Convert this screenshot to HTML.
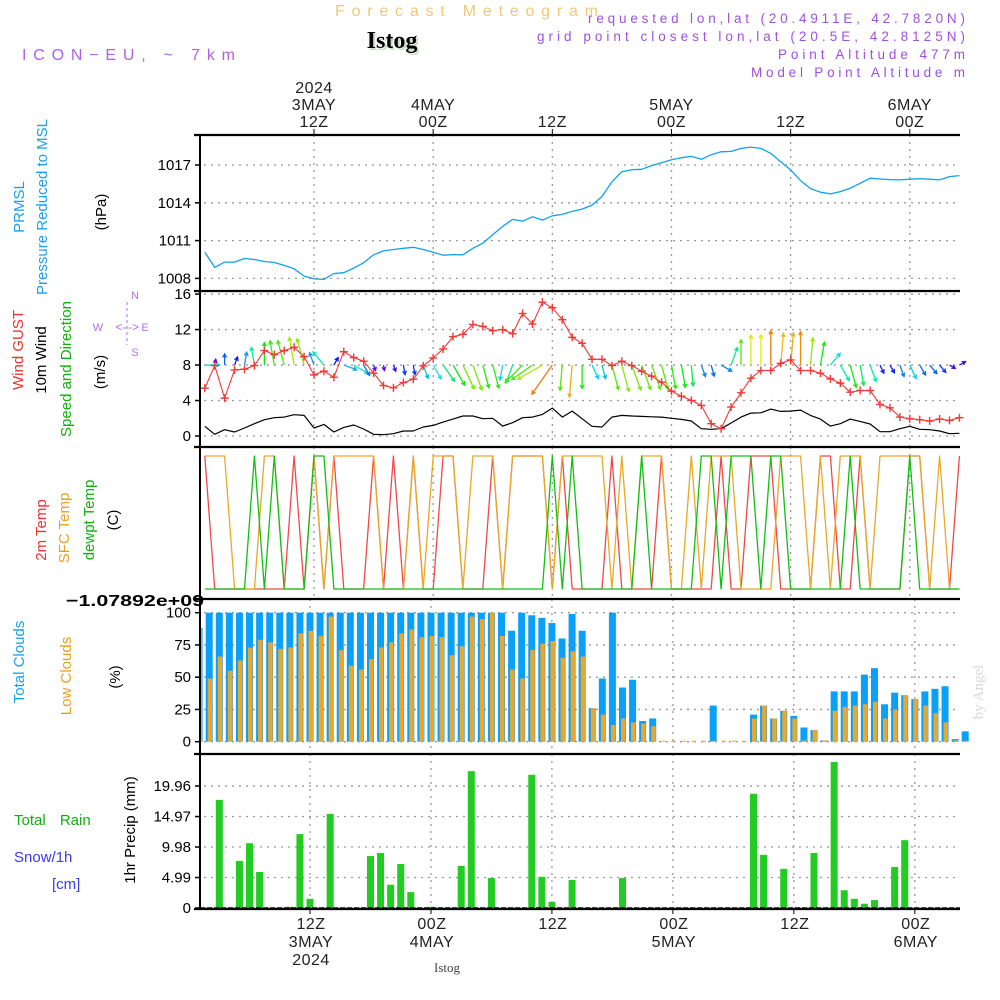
<!DOCTYPE html>
<html><head><meta charset="utf-8"><style>
html,body{margin:0;padding:0;background:#fff;}
svg{display:block;font-family:"Liberation Sans",sans-serif;}
</style></head><body>
<svg id="chart" width="1000" height="1000" viewBox="0 0 1000 1000" xmlns="http://www.w3.org/2000/svg">
<g>
<text x="335" y="16" font-size="16" fill="#f0c878" textLength="263" lengthAdjust="spacing">Forecast Meteogram</text>
<text x="394" y="50" text-anchor="middle" font-size="24" font-weight="bold" font-family="Liberation Serif,serif" fill="#c8dcc8">Istog</text>
<text x="392" y="48" text-anchor="middle" font-size="24" font-weight="bold" font-family="Liberation Serif,serif" fill="#000">Istog</text>
<text x="22" y="60" font-size="16" fill="#b060e8" textLength="213" lengthAdjust="spacing">ICON−EU, ~ 7km</text>
<text x="588" y="23" font-size="13.5" fill="#a050e0" textLength="377" lengthAdjust="spacing">requested lon,lat (20.4911E, 42.7820N)</text>
<text x="537" y="41" font-size="13.5" fill="#a050e0" textLength="428" lengthAdjust="spacing">grid point closest lon,lat (20.5E, 42.8125N)</text>
<text x="778" y="59" font-size="13.5" fill="#a050e0" textLength="187" lengthAdjust="spacing">Point Altitude 477m</text>
<text x="751" y="77" font-size="13.5" fill="#a050e0" textLength="214" lengthAdjust="spacing">Model Point Altitude m</text>
</g>
<g font-size="15">
<text transform="translate(24,207) rotate(-90)" text-anchor="middle" fill="#1aa0ee">PRMSL</text>
<text transform="translate(47,207) rotate(-90)" text-anchor="middle" fill="#1aa0ee">Pressure Reduced to MSL</text>
<text transform="translate(106,212) rotate(-90)" text-anchor="middle" fill="#000">(hPa)</text>
<text transform="translate(23,350) rotate(-90)" text-anchor="middle" fill="#f03030">Wind GUST</text>
<text transform="translate(46,360) rotate(-90)" text-anchor="middle" fill="#000">10m Wind</text>
<text transform="translate(71,369) rotate(-90)" text-anchor="middle" fill="#10b010">Speed and Direction</text>
<text transform="translate(105,372) rotate(-90)" text-anchor="middle" fill="#000">(m/s)</text>
<g fill="#b070e8" font-size="11">
<text x="135" y="299" text-anchor="middle">N</text><text x="135" y="356" text-anchor="middle">S</text>
<text x="98" y="331" text-anchor="middle">W</text><text x="145" y="331" text-anchor="middle">E</text>
<text x="121" y="331" text-anchor="middle" font-size="12">&lt;-</text><text x="149" y="331" text-anchor="middle" font-size="12"></text>
<text x="128" y="331" text-anchor="start" font-size="12">-&gt;</text>
<line x1="127" y1="302" x2="127" y2="345" stroke="#b070e8" stroke-dasharray="3,3"/>
</g>
<text transform="translate(46,530) rotate(-90)" text-anchor="middle" fill="#f03030">2m Temp</text>
<text transform="translate(69,528) rotate(-90)" text-anchor="middle" fill="#e8a020">SFC Temp</text>
<text transform="translate(94,520) rotate(-90)" text-anchor="middle" fill="#10b010">dewpt Temp</text>
<text transform="translate(118,520) rotate(-90)" text-anchor="middle" fill="#000">(C)</text>
<text transform="translate(24,662) rotate(-90)" text-anchor="middle" fill="#1aa0ee">Total Clouds</text>
<text transform="translate(71,676) rotate(-90)" text-anchor="middle" fill="#e8a020">Low Clouds</text>
<text transform="translate(120,677) rotate(-90)" text-anchor="middle" fill="#000">(%)</text>
<text transform="translate(135,830) rotate(-90)" text-anchor="middle" fill="#000">1hr Precip (mm)</text>
<text x="14" y="825" fill="#10b010" word-spacing="10">Total  Rain</text>
<text x="14" y="862" fill="#3a3aee">Snow/1h</text>
<text x="52" y="889" fill="#3a3aee">[cm]</text>
<text x="66" y="606" font-weight="bold" font-size="16" fill="#000" textLength="138" lengthAdjust="spacingAndGlyphs">−1.07892e+09</text>
<text transform="translate(983,692) rotate(-90)" text-anchor="middle" font-family="Liberation Serif,serif" font-size="15" fill="#d8d8d8">by Angel</text>
<text x="447" y="972" text-anchor="middle" font-family="Liberation Serif,serif" font-size="13" fill="#444">Istog</text>
</g>
<g id="grid"></g><g id="marks"></g><g id="axes"></g>
</svg>
<script>
const hours=[];for(let i=1;i<=77;i++)hours.push(i);
const pressure=[1010.08,1008.87,1009.29,1009.29,1009.58,1009.50,1009.34,1009.26,1009.03,1008.76,1008.18,1007.97,1007.92,1008.39,1008.45,1008.82,1009.24,1009.87,1010.18,1010.29,1010.39,1010.47,1010.29,1010.08,1009.84,1009.89,1009.87,1010.39,1010.79,1011.47,1012.13,1012.68,1012.55,1012.89,1012.63,1012.97,1013.08,1013.32,1013.50,1013.82,1014.50,1015.66,1016.47,1016.63,1016.66,1016.95,1017.18,1017.42,1017.58,1017.68,1017.45,1017.82,1018.05,1018.08,1018.32,1018.42,1018.32,1017.92,1017.26,1016.61,1015.76,1015.13,1014.84,1014.71,1014.89,1015.16,1015.55,1015.95,1015.89,1015.84,1015.82,1015.87,1015.92,1015.87,1015.82,1016.08,1016.16];
const gust=[5.39,7.94,4.27,7.45,7.53,7.94,9.63,9.18,9.63,10.0,8.95,6.89,7.30,6.63,9.51,8.84,8.43,7.08,5.69,5.43,6.03,6.40,7.90,8.80,9.81,11.2,11.46,12.58,12.36,11.87,11.99,11.54,13.82,12.62,15.09,14.46,13.11,11.12,10.45,8.65,8.65,7.94,8.43,7.94,7.30,6.74,6.07,5.06,4.49,4.01,3.45,1.39,0.82,3.26,4.87,6.52,7.38,7.38,8.20,8.58,7.38,7.38,7.08,6.44,5.96,4.94,5.13,5.13,3.56,3.18,2.13,1.95,1.84,1.69,1.91,1.76,2.06];
const speed=[1.09,0.19,0.71,0.45,0.9,1.39,1.84,2.06,2.13,2.4,2.32,0.9,1.31,0.45,0.97,1.24,0.79,0.19,0.15,0.26,0.56,0.56,1.01,1.2,1.57,1.91,2.25,2.25,1.95,1.99,1.12,1.5,2.06,2.13,2.43,3.15,2.13,2.81,1.95,1.09,1.01,2.13,2.32,2.25,2.21,2.17,2.13,1.99,1.87,1.69,0.82,0.75,0.82,1.46,2.13,2.58,2.62,3.03,2.77,2.81,2.92,2.32,1.91,1.12,1.39,1.91,1.65,1.35,0.49,0.49,0.82,1.09,0.75,0.71,0.56,0.26,0.3];
const windDir=[90,10,0,20,10,-10,0,-10,-15,-10,-15,-20,-40,30,110,120,150,160,170,160,170,170,160,150,145,150,155,160,165,165,190,200,225,235,240,215,185,185,180,155,165,165,165,160,160,160,165,170,170,175,160,165,120,20,0,0,0,0,5,5,0,5,10,40,150,165,170,160,155,150,160,155,150,140,140,120,60];
const temp2m=[1,0,0,0,0,0,0,0,0,1,0,1,0,1,0,0,0,1,0,1,0,1,0,0,1,1,0,0,0,1,0,1,1,1,1,0,1,0,0,0,0,1,0,0,0,0,1,0,0,0,0,0,1,0,0,1,1,1,0,0,0,0,1,1,0,0,1,0,0,0,0,1,1,0,0,0,1];
const tempSfc=[1,1,1,0,0,0,1,1,0,0,0,1,0,1,1,1,1,1,0,0,0,1,0,1,1,1,0,1,1,1,0,1,1,1,1,0,1,1,1,1,1,0,1,0,1,1,1,0,0,1,0,1,1,1,0,0,0,0,1,1,1,0,1,0,1,1,1,0,1,1,1,1,1,0,1,0,0];
const dewpt=[0,0,0,0,0,1,0,1,0,0,0,1,1,0,0,0,0,0,0,0,0,0,0,0,0,0,0,0,0,0,0,0,0,0,0,1,0,1,0,0,0,0,0,0,1,0,0,0,0,0,1,1,0,1,1,1,0,1,1,0,0,0,0,0,0,1,0,0,0,0,0,1,0,0,0,0,0];
const totalClouds=[88,100,100,100,100,100,100,100,100,100,100,100,100,100,100,100,100,100,100,100,100,100,100,100,100,100,100,100,100,100,100,86,100,98,96,92,80,99,86,26,49,100,42,48,16,18,0,0,0,0,0,28,0,0,0,21,28,18,24,20,11,9,1,39,39,39,52,57,29,38,36,33,39,41,43,2,8];
const lowClouds=[87,49,66,55,63,73,79,77,72,73,84,86,82,97,71,59,56,64,73,77,84,87,81,82,81,67,74,97,95,100,82,56,49,71,76,78,65,70,66,26,21,13,18,15,14,12,0,0,0,0,0,0,0,0,0,18,28,18,24,18,1,9,1,24,27,28,29,31,18,25,36,33,28,22,15,1,0];
const precip=[0,0,17.7,0,7.7,10.6,5.9,0,0,0.2,12.1,1.5,0,15.4,0,0,0,8.5,9.0,3.8,7.2,2.6,0,0.2,0,0,6.9,22.4,0,4.9,0,0,0,21.8,5.1,1.0,0,4.6,0,0,0,0,4.9,0,0,0,0,0,0,0,0,0,0,0,0,18.7,8.7,0,6.4,0,0,9.0,0,23.9,2.9,1.5,0.7,1.3,0,6.7,11.1,0,0,0,0,0,0];
const pTicks=[1008,1011,1014,1017];
const wTicks=[0,4,8,12,16];
const cTicks=[0,25,50,75,100];
const rTicks=[0,4.99,9.98,14.97,19.96];
const timeTicks=[12,24,36,48,60,72];
const topLabels=[["2024","3MAY","12Z"],["4MAY","00Z"],["12Z"],["5MAY","00Z"],["12Z"],["6MAY","00Z"]];
const botLabels=[["12Z","3MAY","2024"],["00Z","4MAY"],["12Z"],["00Z","5MAY"],["12Z"],["00Z","6MAY"]];

const NS="http://www.w3.org/2000/svg";
const L=200,R=960;
const xT=t=>314+(t-12)*9.93;
const xB=t=>310+(t-12)*10.08;
const yP=p=>165+(1017-p)*12.6;
const yW=v=>436-v*8.87;
const yT=b=>b?456:589;
const yC=c=>741.7-c*1.29;
const yR=r=>908-r*6.11;
const P={p:[135,291],w:[291,447],t:[447,599],c:[599,754],r:[754,909]};
function mk(tag,attrs,parent){const e=document.createElementNS(NS,tag);for(const k in attrs)e.setAttribute(k,attrs[k]);parent.appendChild(e);return e;}
const grid=document.getElementById('grid'),marks=document.getElementById('marks'),axes=document.getElementById('axes');
const dot={stroke:'#999','stroke-dasharray':'2,5','stroke-width':1.3};
['p','w','t'].forEach(k=>timeTicks.forEach(t=>{const l=mk('line',Object.assign({x1:xT(t),x2:xT(t),y1:P[k][0],y2:P[k][1]},dot),grid);

}));
['c','r'].forEach(k=>timeTicks.forEach(t=>{const l=mk('line',Object.assign({x1:xB(t),x2:xB(t),y1:P[k][0],y2:P[k][1]},dot),grid);

}));
function hgrid(ticks,fy,fmt,name){ticks.forEach(v=>{const y=fy(v);
const l=mk('line',Object.assign({x1:L+4,x2:R,y1:y,y2:y},dot),grid);


mk('line',{x1:L-5,x2:L,y1:y,y2:y,stroke:'#000','stroke-width':1.5},axes);
const tx=mk('text',{x:L-9,y:y+5,'text-anchor':'end','font-size':15,fill:'#000'},axes);tx.textContent=fmt(v);

});}
hgrid(pTicks,yP,v=>v,'pressure');
hgrid(wTicks,yW,v=>v,'wind');
hgrid(cTicks,yC,v=>v,'cloud');
hgrid(rTicks,yR,v=>v===0?'0':v.toFixed(2),'precip');
hours.forEach((t,i)=>{const x=xB(t);const tc=totalClouds[i]||0,lc=lowClouds[i]||0;
const x0=Math.max(L+1,x-3.5);const w=Math.max(0,x+3.5-x0);
const b=mk('rect',{x:x0,y:yC(tc),width:w,height:Math.max(0,yC(0)-yC(tc)),fill:'#0aa0f8'},marks);


const x1=Math.max(L+1,x-1.5);
const o=mk('rect',{x:x1,y:yC(lc)-(lc===0?1:0),width:Math.max(0,x+3-x1),height:Math.max(1,yC(0)-yC(lc)),fill:'#e8a830'},marks);

});
hours.forEach((t,i)=>{const v=precip[i]||0;if(v<=0)return;const x=xB(t);
const b=mk('rect',{x:x-3.5,y:yR(v),width:7,height:yR(0)-yR(v),fill:'#22cc22'},marks);

});
mk('line',{x1:L,x2:R,y1:908,y2:908,stroke:'#000','stroke-width':1.5,'stroke-dasharray':'5,2'},marks);
function poly(arr,fx,fy,color,name,w){const pts=hours.map((t,i)=>fx(t).toFixed(1)+','+fy(arr[i]||0).toFixed(1)).join(' ');
const p=mk('polyline',{points:pts,fill:'none',stroke:color,'stroke-width':w||1.3,'stroke-linejoin':'round'},marks);

}
poly(pressure,xT,yP,'#12a0f0','pressure-line');
poly(temp2m,xT,yT,'#f04848','temp-2m-line');
poly(tempSfc,xT,yT,'#e8a828','temp-sfc-line');
poly(dewpt,xT,yT,'#10c010','dewpt-line');
hours.forEach((t,i)=>{const s=speed[i]||0,d=(windDir[i]||0)*Math.PI/180;const len=4+10*s;
const x0=xT(t),y0=yW(8);const x1=x0+Math.sin(d)*len,y1=y0-Math.cos(d)*len;
const hue=Math.max(30,Math.min(275,275-s*82));const col='hsl('+hue+',90%,48%)';
const g=mk('g',{stroke:col,'stroke-width':1.3,fill:'none'},marks);


mk('line',{x1:x0,y1:y0,x2:x1,y2:y1},g);
const a=Math.atan2(y1-y0,x1-x0),h=4;
mk('polyline',{points:(x1-h*Math.cos(a-0.5))+','+(y1-h*Math.sin(a-0.5))+' '+x1+','+y1+' '+(x1-h*Math.cos(a+0.5))+','+(y1-h*Math.sin(a+0.5))},g);});
poly(gust,xT,yW,'#f03838','gust-line',1.1);
poly(speed,xT,yW,'#000','wind-speed-line',1.2);
hours.forEach((t,i)=>{const x=xT(t),y=yW(gust[i]);
const g=mk('path',{d:`M${x-4},${y}H${x+4}M${x},${y-4}V${y+4}`,stroke:'#f03838','stroke-width':1.4},marks);

});
[135,291,447,599,754,909].forEach(y=>mk('line',{x1:L-6,x2:R,y1:y,y2:y,stroke:'#000','stroke-width':2.2},axes));
mk('line',{x1:L,x2:L,y1:135,y2:909,stroke:'#000','stroke-width':2},axes);
timeTicks.forEach((t,i)=>{const xt=xT(t);mk('line',{x1:xt,x2:xt,y1:129,y2:135,stroke:'#000'},axes);
const lab=topLabels[i];lab.forEach((s,j)=>{const tx=mk('text',{x:xt,y:128-(lab.length-1-j)*17-1,'text-anchor':'middle','font-size':16,fill:'#222','letter-spacing':'0.5'},axes);tx.textContent=s;

});
const xb=xB(t);mk('line',{x1:xb,x2:xb,y1:909,y2:914,stroke:'#000'},axes);
botLabels[i].forEach((s,j)=>{const tx=mk('text',{x:xb+1,y:929+j*18,'text-anchor':'middle','font-size':16,fill:'#222','letter-spacing':'0.5'},axes);tx.textContent=s;

});});
</script>
</body></html>
